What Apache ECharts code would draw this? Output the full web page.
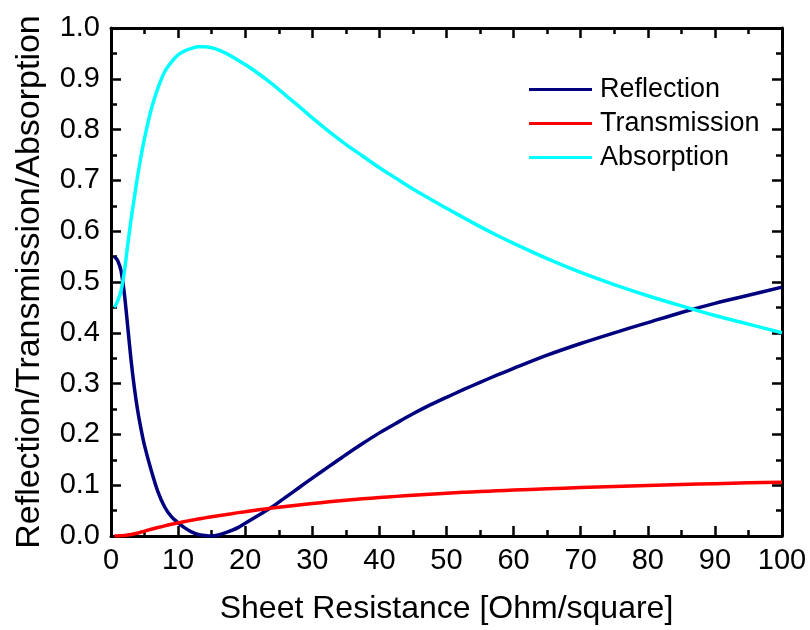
<!DOCTYPE html>
<html>
<head>
<meta charset="utf-8">
<script src="https://cdn.jsdelivr.net/npm/echarts@6/dist/echarts.min.js"></script>
<style>
html,body{margin:0;padding:0;background:#fff;}
#chart{width:810px;height:630px;}
</style>
</head>
<body>
<div id="chart"></div>
<script>
// Sheet resistance values (Ohm/square)
var sheetRes = [0.5,1,1.5,2,2.5,3,3.5,4,4.5,5,6,7,8,9,10,11,12,13,14,15,16,17,18,19,20,22,24,26,28,30,32.5,35,37.5,40,42.5,45,47.5,50,52.5,55,57.5,60,65,70,75,80,85,90,95,100];
var reflection = [0.550,0.542,0.522,0.476,0.411,0.345,0.290,0.245,0.209,0.178,0.129,0.087,0.057,0.038,0.026,0.016,0.008,0.003,0.001,0.000,0.002,0.006,0.011,0.017,0.025,0.041,0.057,0.076,0.095,0.114,0.137,0.160,0.182,0.203,0.222,0.2405,0.2575,0.2730,0.2880,0.3025,0.3165,0.3300,0.356,0.379,0.400,0.420,0.440,0.458,0.474,0.490];
var transmission = [0.000,0.000,0.0005,0.001,0.002,0.003,0.0045,0.006,0.0078,0.0096,0.0133,0.0168,0.0200,0.0230,0.0258,0.0284,0.0310,0.0334,0.0357,0.0379,0.0400,0.0420,0.0440,0.0460,0.0478,0.0515,0.0550,0.0582,0.0612,0.0640,0.0673,0.0703,0.0731,0.0757,0.0780,0.0802,0.0822,0.0841,0.0859,0.0875,0.0890,0.0904,0.0930,0.0953,0.0975,0.0995,0.1013,0.1030,0.1046,0.1060];
var absorption = [0.450,0.463,0.483,0.521,0.574,0.624,0.668,0.711,0.749,0.783,0.840,0.882,0.914,0.933,0.947,0.955,0.960,0.963,0.963,0.961,0.957,0.951,0.944,0.936,0.928,0.910,0.890,0.868,0.846,0.823,0.796,0.771,0.748,0.725,0.704,0.683,0.664,0.645,0.627,0.609,0.592,0.576,0.546,0.519,0.495,0.473,0.453,0.434,0.417,0.400];
var seriesNames = ['Reflection','Transmission','Absorption'];
var seriesColors = ['#00007F','#FF0000','#00FFFF'];
var yTickLabels = ['0.0','0.1','0.2','0.3','0.4','0.5','0.6','0.7','0.8','0.9','1.0'];

function pairs(ys){ return sheetRes.map(function(x,i){ return [x, ys[i]]; }); }
var allY = [reflection, transmission, absorption];

var FONT = "'Liberation Sans', Arial, sans-serif";
var axisLine = {show:true, onZero:false, lineStyle:{color:'#000', width:3}};
var tick = {show:true, inside:true, length:10, lineStyle:{color:'#000', width:2.5}};
var minor = {show:true, splitNumber:2, length:6, lineStyle:{color:'#000', width:2.5}};

var chart = echarts.init(document.getElementById('chart'), null, {renderer:'canvas'});
chart.setOption({
  animation:false,
  backgroundColor:'#fff',
  grid:{left:111, right:28, top:28, bottom:92.5, containLabel:false},
  legend:{
    orient:'vertical', left:529, top:76, padding:0,
    itemWidth:63, itemHeight:3, itemGap:7, icon:'rect',
    textStyle:{fontFamily:FONT, fontSize:27, color:'#000', lineHeight:27, padding:[0,0,0,3]},
    data:seriesNames
  },
  xAxis:[{
    type:'value', min:0, max:100, interval:10, position:'bottom',
    name:'Sheet Resistance [Ohm/square]', nameLocation:'middle', nameGap:57,
    nameTextStyle:{fontFamily:FONT, fontSize:32, color:'#000'},
    axisLine:axisLine, axisTick:tick, minorTick:minor,
    axisLabel:{fontFamily:FONT, fontSize:29, color:'#000', margin:10},
    splitLine:{show:false}, minorSplitLine:{show:false}
  },{
    type:'value', min:0, max:100, interval:10, position:'top',
    axisLine:axisLine, axisTick:tick, minorTick:minor,
    axisLabel:{show:false}, splitLine:{show:false}
  }],
  yAxis:[{
    type:'value', min:0, max:1, interval:0.1, position:'left',
    name:'Reflection/Transmission/Absorption', nameLocation:'middle', nameGap:64,
    nameTextStyle:{fontFamily:FONT, fontSize:34, color:'#000'},
    axisLine:axisLine, axisTick:tick, minorTick:minor,
    axisLabel:{fontFamily:FONT, fontSize:29, color:'#000', margin:11,
      formatter:function(v){ return yTickLabels[Math.round(v*10)]; }},
    splitLine:{show:false}
  },{
    type:'value', min:0, max:1, interval:0.1, position:'right',
    axisLine:axisLine, axisTick:tick, minorTick:minor,
    axisLabel:{show:false}, splitLine:{show:false}
  }],
  series: seriesNames.map(function(n,i){
    return {
      name:n, type:'line', data:pairs(allY[i]),
      xAxisIndex:0, yAxisIndex:0,
      showSymbol:false, smooth:0.3, clip:true,
      itemStyle:{color:seriesColors[i]},
      lineStyle:{color:seriesColors[i], width:3.5}
    };
  })
});
</script>
</body>
</html>
